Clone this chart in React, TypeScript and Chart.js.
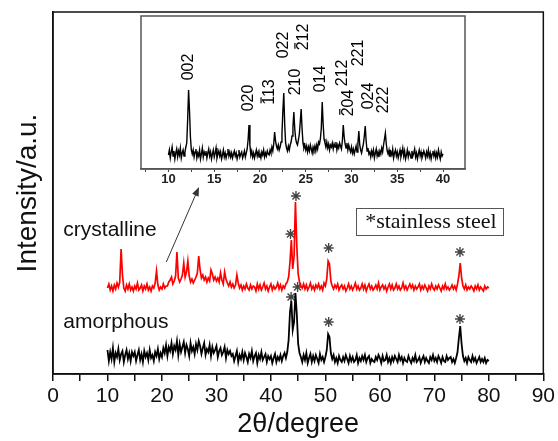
import React, { useEffect, useRef } from 'react';
import { Chart, registerables } from 'chart.js';

Chart.register(...registerables);

const SANS = "'Liberation Sans', Arial, Helvetica, sans-serif";
const SERIF = "'Liberation Serif', 'Times New Roman', serif";

// ---- Main XRD patterns: 2θ from 10° to 80°, 0.25° step (4 values per degree) ----
const MAIN_START = 10;
const MAIN_STEP = 0.25;

const AMORPHOUS = [
  24, 13, 22, 15, 26, 12, 21, 17, 25, 14, 20, 23, 12, 19, 24, 15, 21, 13, 22, 18, // 10-14
  22, 13, 19, 24, 14, 20, 12, 23, 17, 21, 14, 24, 16, 19, 13, 22, 18, 25, 15, 21, // 15-19
  17, 26, 21, 29, 18, 27, 23, 31, 20, 28, 24, 33, 19, 30, 22, 27, 32, 21, 29, 25, // 20-24
  18, 31, 23, 27, 20, 30, 24, 33, 28, 20, 26, 31, 19, 25, 22, 29, 18, 27, 21, 24, // 25-29
  28, 17, 23, 26, 19, 22, 27, 16, 24, 20, 23, 18, 20, 13, 18, 23, 12, 19, 15, 22, // 30-34
  14, 21, 17, 12, 20, 16, 23, 13, 18, 21, 11, 19, 15, 22, 14, 17, 20, 12, 18, 15, // 35-39
  18, 11, 16, 20, 12, 17, 14, 19, 13, 18, 21, 16, 22, 34, 62, 73, 44, 52, 81, 60, // 40-44
  30, 21, 17, 12, 19, 14, 21, 11, 16, 20, 12, 18, 13, 19, 15, 11, 20, 14, 17, 12, // 45-49
  17, 24, 40, 37, 21, 15, 19, 12, 16, 11, 18, 14, 12, 17, 13, 19, 15, 11, 18, 13, // 50-54
  17, 12, 14, 19, 11, 16, 13, 18, 14, 19, 12, 16, 18, 11, 15, 13, 12, 17, 14, 19, // 55-59
  16, 11, 18, 13, 14, 19, 12, 16, 11, 17, 13, 18, 15, 12, 19, 14, 17, 11, 16, 13, // 60-64
  12, 18, 14, 11, 16, 13, 19, 12, 14, 17, 11, 15, 18, 12, 16, 13, 11, 17, 14, 19, // 65-69
  13, 16, 12, 18, 15, 11, 17, 13, 12, 18, 14, 16, 17, 12, 15, 11, 16, 22, 36, 48, // 70-74
  30, 18, 13, 16, 11, 17, 14, 12, 18, 13, 16, 11, 14, 17, 12, 15, 12, 16, 11, 14, // 75-79
  13, // 80
];

const CRYSTALLINE = [
  86, 90, 84, 88, 83, 89, 85, 91, 87, 92, 125, 99, 86, 83, 89, 85, 90, 84, 87, 83, // 10-14
  88, 85, 91, 84, 86, 89, 83, 88, 85, 90, 84, 87, 83, 88, 86, 91, 103, 89, 84, 87, // 15-19
  85, 90, 86, 88, 88, 92, 94, 97, 90, 93, 98, 122, 96, 92, 95, 99, 111, 97, 102, 113, // 20-24
  98, 92, 95, 91, 94, 97, 101, 118, 104, 96, 99, 94, 97, 92, 96, 93, 104, 100, 94, 97, // 25-29
  93, 96, 92, 101, 94, 90, 102, 95, 91, 88, 92, 87, 90, 86, 89, 99, 91, 86, 89, 84, // 30-34
  88, 85, 90, 86, 84, 89, 85, 88, 87, 83, 90, 85, 89, 84, 87, 91, 85, 88, 83, 87, // 35-39
  90, 84, 88, 85, 87, 91, 85, 89, 84, 88, 86, 90, 92, 97, 112, 134, 105, 118, 172, 128, // 40-44
  100, 92, 88, 86, 90, 85, 89, 84, 87, 91, 85, 88, 84, 89, 86, 90, 85, 88, 84, 91, // 45-49
  88, 95, 113, 110, 93, 88, 85, 89, 86, 90, 84, 87, 89, 85, 88, 83, 86, 90, 85, 88, // 50-54
  84, 87, 91, 85, 88, 84, 86, 90, 85, 89, 83, 87, 90, 85, 88, 84, 86, 89, 85, 91, // 55-59
  84, 87, 89, 85, 88, 83, 87, 90, 85, 89, 84, 86, 90, 85, 88, 84, 86, 91, 85, 88, // 60-64
  84, 87, 90, 86, 89, 84, 88, 85, 87, 90, 84, 88, 85, 89, 86, 83, 88, 85, 90, 86, // 65-69
  84, 88, 85, 89, 86, 83, 88, 85, 90, 85, 87, 84, 86, 89, 85, 88, 84, 90, 98, 111, // 70-74
  96, 88, 85, 89, 84, 87, 85, 88, 86, 83, 88, 85, 89, 84, 87, 85, 83, 88, 85, 87, // 75-79
  86, // 80
];

// Stainless-steel reflections (asterisks)
const RED_STAR_X = [43.6, 44.6, 50.6, 74.7];
const RED_STAR_Y = [140, 178, 126, 122];
const BLACK_STAR_X = [43.7, 44.9, 50.6, 74.7];
const BLACK_STAR_Y = [77, 87, 52, 55];

const X_TICK_VALUES = [0, 5, 10, 15, 20, 25, 30, 35, 40, 45, 50, 55, 60, 65, 70, 75, 80, 85, 90];
const X_TICK_LABELS = [0, 10, 20, 30, 40, 50, 60, 70, 80, 90];

const SAMPLE_LABELS = ['crystalline', 'amorphous'];
const SAMPLE_LABEL_X = [1.9, 1.9];
const SAMPLE_LABEL_Y = [144, 52];

const LEGEND_TEXT = '*stainless steel';
const LEGEND_X = 57.3;
const LEGEND_Y = 152;

const ARROW_FROM = [20.8, 112];
const ARROW_TO = [26.8, 187];

// ---- Inset: crystalline pattern 10°-40°, 0.1° step (10 values per degree) ----
const INSET_START = 10;
const INSET_STEP = 0.1;
const INSET_PATTERN = [
  14, 19, 11, 17, 22, 13, 18, 10, 16, 20, // 10
  12, 18, 14, 21, 11, 16, 19, 13, 17, 22, // 11
  26, 50, 79, 58, 32, 19, 15, 19, 12, 17, // 12
  20, 11, 16, 13, 19, 10, 15, 21, 12, 17, // 13
  14, 18, 11, 16, 20, 13, 17, 10, 15, 19, // 14
  12, 16, 21, 11, 15, 18, 13, 17, 10, 14, // 15
  19, 12, 16, 11, 15, 20, 13, 17, 12, 16, // 16
  11, 15, 18, 13, 16, 10, 14, 19, 12, 15, // 17
  17, 11, 14, 18, 12, 16, 20, 29, 44, 24, // 18
  14, 18, 12, 16, 11, 15, 19, 13, 17, 12, // 19
  15, 11, 17, 14, 19, 12, 16, 13, 18, 15, // 20
  14, 19, 16, 22, 18, 25, 37, 28, 23, 20, // 21
  24, 19, 22, 27, 35, 58, 76, 45, 26, 21, // 22
  18, 23, 19, 24, 27, 33, 42, 57, 40, 30, // 23
  26, 24, 29, 35, 47, 60, 40, 26, 21, 24, // 24
  19, 23, 17, 22, 18, 24, 20, 16, 22, 19, // 25
  23, 18, 24, 20, 27, 25, 30, 41, 67, 45, // 26
  30, 26, 22, 27, 21, 25, 19, 24, 22, 26, // 27
  20, 25, 22, 27, 19, 24, 21, 26, 23, 20, // 28
  28, 44, 32, 25, 21, 26, 19, 24, 20, 17, // 29
  22, 16, 20, 15, 19, 23, 17, 26, 38, 24, // 30
  19, 16, 21, 25, 33, 43, 28, 18, 21, 15, // 31
  17, 12, 18, 14, 19, 11, 16, 20, 13, 17, // 32
  12, 18, 15, 21, 17, 24, 30, 36, 25, 18, // 33
  15, 19, 12, 17, 14, 20, 11, 16, 19, 13, // 34
  17, 11, 15, 19, 12, 16, 21, 13, 18, 10, // 35
  14, 19, 12, 17, 15, 11, 18, 13, 16, 20, // 36
  12, 16, 10, 15, 19, 13, 17, 11, 14, 18, // 37
  15, 11, 17, 13, 19, 12, 16, 10, 15, 18, // 38
  13, 17, 11, 16, 12, 19, 14, 10, 17, 13, // 39
  15, // 40
];

const INSET_TICK_VALUES = [7.5, 10, 12.5, 15, 17.5, 20, 22.5, 25, 27.5, 30, 32.5, 35, 37.5, 40];
const INSET_TICK_LABELS = [10, 15, 20, 25, 30, 35, 40];

const INSET_LABELS = ['002', '020', '113', '022', '212', '210', '014', '212', '204', '221', '024', '222'];
const INSET_LABEL_X = [12.2, 18.8, 21.1, 22.6, 24.8, 23.9, 26.6, 29.0, 29.7, 30.8, 31.9, 33.5];
const INSET_LABEL_Y = [102, 71, 77, 124, 132, 87, 90, 96, 66, 116, 73, 69];
const INSET_LABEL_BAR = [-1, -1, 0, -1, 0, -1, -1, -1, 0, -1, -1, -1];

function toPoints(values: number[], start: number, step: number) {
  return values.map((y, i) => ({ x: +(start + i * step).toFixed(3), y }));
}
function toXY(xs: number[], ys: number[]) {
  return xs.map((x, i) => ({ x, y: ys[i] }));
}

const mainDecor = {
  id: 'mainDecor',
  afterDraw(chart: any) {
    const { ctx, chartArea, scales } = chart;
    const xs = scales.x;
    const ys = scales.y;
    ctx.save();
    // frame
    ctx.strokeStyle = '#111';
    ctx.lineWidth = 1.5;
    ctx.strokeRect(chartArea.left, chartArea.top, chartArea.right - chartArea.left, chartArea.bottom - chartArea.top);

    // sample labels
    ctx.fillStyle = '#111';
    ctx.font = `21px ${SANS}`;
    ctx.textAlign = 'left';
    ctx.textBaseline = 'middle';
    SAMPLE_LABELS.forEach((t, i) => {
      ctx.fillText(t, xs.getPixelForValue(SAMPLE_LABEL_X[i]), ys.getPixelForValue(SAMPLE_LABEL_Y[i]));
    });

    // legend box
    ctx.font = `22px ${SERIF}`;
    const tx = xs.getPixelForValue(LEGEND_X);
    const ty = ys.getPixelForValue(LEGEND_Y);
    const tw = ctx.measureText(LEGEND_TEXT).width;
    ctx.fillText(LEGEND_TEXT, tx, ty);
    ctx.strokeStyle = '#555';
    ctx.lineWidth = 1;
    ctx.strokeRect(Math.round(tx - 9) + 0.5, Math.round(ty - 14) + 0.5, Math.round(tw + 16), 27);

    // arrow
    const x1 = xs.getPixelForValue(ARROW_FROM[0]);
    const y1 = ys.getPixelForValue(ARROW_FROM[1]);
    const x2 = xs.getPixelForValue(ARROW_TO[0]);
    const y2 = ys.getPixelForValue(ARROW_TO[1]);
    const ang = Math.atan2(y2 - y1, x2 - x1);
    ctx.strokeStyle = '#333';
    ctx.fillStyle = '#333';
    ctx.lineWidth = 1;
    ctx.beginPath();
    ctx.moveTo(x1, y1);
    ctx.lineTo(x2 - 6 * Math.cos(ang), y2 - 6 * Math.sin(ang));
    ctx.stroke();
    ctx.beginPath();
    ctx.moveTo(x2, y2);
    ctx.lineTo(x2 - 9 * Math.cos(ang) + 3.5 * Math.sin(ang), y2 - 9 * Math.sin(ang) - 3.5 * Math.cos(ang));
    ctx.lineTo(x2 - 9 * Math.cos(ang) - 3.5 * Math.sin(ang), y2 - 9 * Math.sin(ang) + 3.5 * Math.cos(ang));
    ctx.closePath();
    ctx.fill();
    ctx.restore();
  },
};

const insetDecor = {
  id: 'insetDecor',
  beforeDraw(chart: any) {
    const { ctx, chartArea } = chart;
    ctx.save();
    ctx.fillStyle = '#fff';
    ctx.fillRect(chartArea.left, chartArea.top, chartArea.right - chartArea.left, chartArea.bottom - chartArea.top);
    ctx.restore();
  },
  afterDraw(chart: any) {
    const { ctx, chartArea, scales } = chart;
    const xs = scales.x;
    const ys = scales.y;
    ctx.save();
    ctx.strokeStyle = '#555';
    ctx.lineWidth = 1.5;
    ctx.strokeRect(chartArea.left, chartArea.top, chartArea.right - chartArea.left, chartArea.bottom - chartArea.top);

    ctx.fillStyle = '#000';
    ctx.strokeStyle = '#000';
    ctx.font = `16px ${SANS}`;
    ctx.textAlign = 'center';
    ctx.textBaseline = 'middle';
    INSET_LABELS.forEach((t, i) => {
      const px = xs.getPixelForValue(INSET_LABEL_X[i]);
      const py = ys.getPixelForValue(INSET_LABEL_Y[i]);
      ctx.save();
      ctx.translate(px, py);
      ctx.rotate(-Math.PI / 2);
      ctx.fillText(t, 0, 0);
      const b = INSET_LABEL_BAR[i];
      if (b >= 0) {
        const full = ctx.measureText(t).width;
        const pre = ctx.measureText(t.slice(0, b)).width;
        const cw = ctx.measureText(t[b]).width;
        const x0 = -full / 2 + pre;
        ctx.lineWidth = 1.2;
        ctx.beginPath();
        ctx.moveTo(x0 + 1.5, -9);
        ctx.lineTo(x0 + cw - 1.5, -9);
        ctx.stroke();
      }
      ctx.restore();
    });
    ctx.restore();
  },
};

export default function App() {
  const mainRef = useRef<HTMLCanvasElement>(null);
  const insetRef = useRef<HTMLCanvasElement>(null);

  useEffect(() => {
    const main = new Chart(mainRef.current as HTMLCanvasElement, {
      type: 'line',
      data: {
        datasets: [
          {
            label: 'crystalline',
            data: toPoints(CRYSTALLINE, MAIN_START, MAIN_STEP),
            borderColor: '#ff0000',
            borderWidth: 1.7,
            pointRadius: 0,
            tension: 0,
            fill: false,
          },
          {
            label: 'amorphous',
            data: toPoints(AMORPHOUS, MAIN_START, MAIN_STEP),
            borderColor: '#000000',
            borderWidth: 1.8,
            pointRadius: 0,
            tension: 0,
            fill: false,
          },
          {
            type: 'scatter',
            label: 'steel (crystalline)',
            data: toXY(RED_STAR_X, RED_STAR_Y),
            pointStyle: 'star',
            pointRadius: 5,
            borderColor: '#444',
            backgroundColor: '#444',
            borderWidth: 1.4,
            showLine: false,
          },
          {
            type: 'scatter',
            label: 'steel (amorphous)',
            data: toXY(BLACK_STAR_X, BLACK_STAR_Y),
            pointStyle: 'star',
            pointRadius: 5,
            borderColor: '#444',
            backgroundColor: '#444',
            borderWidth: 1.4,
            showLine: false,
          },
        ] as any,
      },
      options: {
        animation: false,
        responsive: false,
        events: [],
        layout: { padding: { top: 12, right: 12, left: 0, bottom: 0 } },
        plugins: { legend: { display: false }, tooltip: { enabled: false } },
        scales: {
          x: {
            type: 'linear',
            min: 0,
            max: 90,
            afterBuildTicks: (s: any) => {
              s.ticks = X_TICK_VALUES.map((v) => ({ value: v }));
            },
            afterFit: (s: any) => {
              s.height = 67;
            },
            ticks: {
              autoSkip: false,
              maxRotation: 0,
              padding: 3,
              color: '#111',
              font: { family: SANS, size: 21 },
              callback: (v: any) => (X_TICK_LABELS.includes(Number(v)) ? String(v) : ''),
            },
            grid: { drawOnChartArea: false, drawTicks: true, tickLength: 7, color: '#111', lineWidth: 1.5 },
            border: { display: true, color: '#111', width: 1.5 },
            title: { display: true, text: '2θ/degree', color: '#111', font: { family: SANS, size: 27 }, padding: 0 },
          },
          y: {
            min: 0,
            max: 362,
            afterFit: (s: any) => {
              s.width = 53;
            },
            ticks: { display: false },
            grid: { display: false, drawTicks: false },
            border: { display: true, color: '#111', width: 1.5 },
            title: {
              display: true,
              text: 'Intensity/a.u.',
              color: '#111',
              font: { family: SANS, size: 28 },
              padding: { top: 11, bottom: 0 },
            },
          },
        },
      } as any,
      plugins: [mainDecor],
    });

    const inset = new Chart(insetRef.current as HTMLCanvasElement, {
      type: 'line',
      data: {
        datasets: [
          {
            label: 'crystalline 10-40',
            data: toPoints(INSET_PATTERN, INSET_START, INSET_STEP),
            borderColor: '#000',
            borderWidth: 1.4,
            pointRadius: 0,
            tension: 0,
            fill: false,
          },
        ],
      },
      options: {
        animation: false,
        responsive: false,
        events: [],
        layout: { padding: { top: 1, right: 1, left: 1, bottom: 0 } },
        plugins: { legend: { display: false }, tooltip: { enabled: false } },
        scales: {
          x: {
            type: 'linear',
            min: 7,
            max: 42.4,
            afterBuildTicks: (s: any) => {
              s.ticks = INSET_TICK_VALUES.map((v) => ({ value: v }));
            },
            afterFit: (s: any) => {
              s.height = 26;
            },
            ticks: {
              autoSkip: false,
              maxRotation: 0,
              padding: 0,
              color: '#222',
              font: { family: SANS, size: 13, weight: 'bold' },
              callback: (v: any) => (INSET_TICK_LABELS.includes(Number(v)) ? String(v) : ''),
            },
            grid: { drawOnChartArea: false, drawTicks: true, tickLength: 3, color: '#444', lineWidth: 1 },
            border: { display: true, color: '#555', width: 1.5 },
          },
          y: { display: false, min: 0, max: 153 },
        },
      } as any,
      plugins: [insetDecor],
    });

    return () => {
      main.destroy();
      inset.destroy();
    };
  }, []);

  return (
    <div style={{ position: 'absolute', left: 0, top: 0, width: 558, height: 441, background: '#fff' }}>
      <canvas ref={mainRef} width={558} height={441} style={{ position: 'absolute', left: 0, top: 0, display: 'block' }} />
      <div style={{ position: 'absolute', left: 140, top: 15, width: 326, height: 180 }}>
        <canvas ref={insetRef} width={326} height={180} style={{ display: 'block' }} />
      </div>
    </div>
  );
}
